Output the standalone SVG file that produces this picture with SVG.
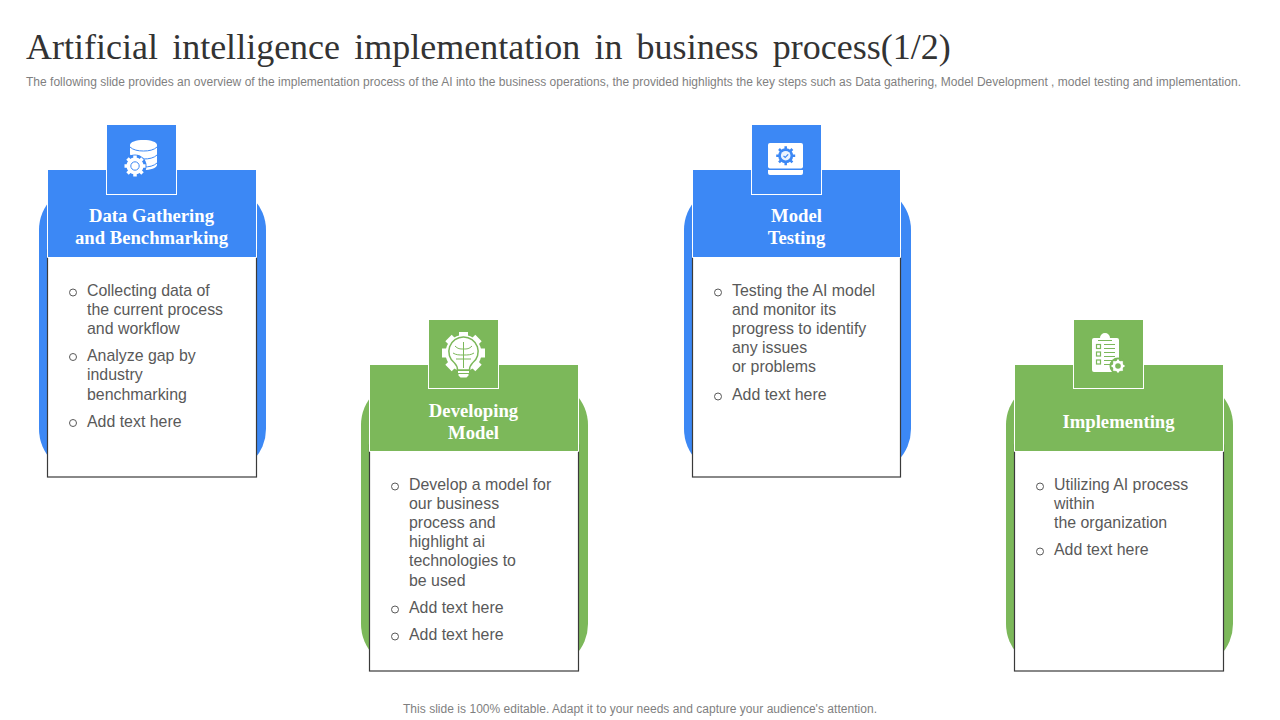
<svg xmlns="http://www.w3.org/2000/svg" width="1280" height="720" viewBox="0 0 1280 720">
<style>
.title{font-family:"Liberation Serif",serif;font-size:36px;fill:#333;word-spacing:5.2px}
.sub{font-family:"Liberation Sans",Arial,sans-serif;font-size:12px;fill:#7f7f7f}
.head{font-family:"Liberation Serif",serif;font-size:18.7px;font-weight:bold;fill:#fff;text-anchor:middle}
.body{font-family:"Liberation Sans",Arial,sans-serif;font-size:15.9px;fill:#595959}
.bul{fill:none;stroke:#595959;stroke-width:1}
.blue{fill:#3c88f5}.green{fill:#7cb85a}
.box{fill:#fff;stroke:#3a3a3a;stroke-width:1.2}
.hd{stroke:#fff;stroke-width:1}
.ic{fill:#fff}
</style>
<rect width="1280" height="720" fill="#fff"/>
<text class="title" x="26" y="59">Artificial intelligence implementation in business process(1/2)</text>
<text class="sub" x="26" y="86" textLength="1215" lengthAdjust="spacing">The following slide provides an overview of the implementation process of the AI into the business operations, the provided highlights the key steps such as Data gathering, Model Development , model testing and implementation.</text>

<g id="card-data-gathering">
<rect class="blue" x="39" y="185" width="227" height="289" rx="45"/>
<rect class="box" x="47.5" y="250" width="209" height="227"/>
<path class="blue" d="M48 170H256V257.500H48Z"/>
<path d="M47.500 170V257.500H256.500V170" class="hd" fill="none"/>
<rect class="blue hd" x="106.500" y="125" width="70" height="69.500"/>
<path class="blue" d="M107 125H176V170H107Z"/>
<g class="ic">
<path d="M130 145c0-3 6-5 13.500-5s13.500 2 13.500 5v20c0 3-7 5-13.500 5s-13.500-2-13.500-5Z"/>
<path d="M130 147c3 3 8 4 13.500 4s10.500-1 13.500-4M130 155c3 3 8 4 13.500 4s10.500-1 13.500-4M130 163c3 3 8 4 13.500 4s10.500-1 13.500-4" fill="none" stroke="#3c88f5" stroke-width="1"/>
<circle cx="135" cy="166" r="11.500" fill="#3c88f5"/>
<circle cx="135" cy="166" r="8.500"/>
<path d="M135 155.500v21M124.500 166h21M127.500 158.500l15 15M142.500 158.500l-15 15" stroke="#fff" stroke-width="3.500"/>
<circle cx="135" cy="166" r="4.200" fill="none" stroke="#3c88f5" stroke-width="1"/>
</g>
<text class="head" x="151.500" y="222">Data Gathering</text>
<text class="head" x="151.500" y="244">and Benchmarking</text>
<circle class="bul" cx="73" cy="292.500" r="3.500"/>
<text class="body" x="87" y="296">Collecting data of</text>
<text class="body" x="87" y="315">the current process</text>
<text class="body" x="87" y="334">and workflow</text>
<circle class="bul" cx="73" cy="357" r="3.500"/>
<text class="body" x="87" y="361">Analyze gap by</text>
<text class="body" x="87" y="380">industry</text>
<text class="body" x="87" y="400">benchmarking</text>
<circle class="bul" cx="73" cy="423" r="3.500"/>
<text class="body" x="87" y="427">Add text here</text>
</g>

<g id="card-developing-model">
<rect class="green" x="361" y="380" width="227" height="289" rx="45"/>
<rect class="box" x="369.500" y="445" width="209" height="226"/>
<path class="green" d="M370 365H578V451.500H370Z"/>
<path d="M369.500 365V451.500H578.500V365" class="hd" fill="none"/>
<rect class="green hd" x="428.500" y="320" width="70" height="68.500"/>
<path class="green" d="M429 320H498V365H429Z"/>
<circle class="ic" cx="463.500" cy="353" r="18"/>
<path d="M463.500 332v42M442 353h43M448.500 338l30 30M478.500 338l-30 30" stroke="#fff" stroke-width="9"/>
<path d="M463.500 337a14.500 14.500 0 0 1 9 26c-2 2-3 4-3 7h-12c0-3-1-5-3-7a14.500 14.500 0 0 1 9-26Z" fill="#fff" stroke="#7cb85a" stroke-width="1.500"/>
<path class="green" d="M455 370h17v9h-17Z"/>
<path class="ic" d="M458 371h11v2h-11ZM458.500 374h10v1.500l-2 2h-6l-2-2Z"/>
<path d="M463.500 342v26M455 346c3 3 5 3 8.500 3s5.500 0 8.500-3M453 353c3 2 6 2 10.500 2s7.500 0 10.500-2M456 359h15" fill="none" stroke="#7cb85a" stroke-width="1"/>
<text class="head" x="473.500" y="417">Developing</text>
<text class="head" x="473.500" y="439">Model</text>
<circle class="bul" cx="395" cy="486.500" r="3.500"/>
<text class="body" x="409" y="490">Develop a model for</text>
<text class="body" x="409" y="509">our business</text>
<text class="body" x="409" y="528">process and</text>
<text class="body" x="409" y="547">highlight ai</text>
<text class="body" x="409" y="566">technologies to</text>
<text class="body" x="409" y="586">be used</text>
<circle class="bul" cx="395" cy="609.500" r="3.500"/>
<text class="body" x="409" y="613">Add text here</text>
<circle class="bul" cx="395" cy="636.500" r="3.500"/>
<text class="body" x="409" y="640">Add text here</text>
</g>

<g id="card-model-testing">
<rect class="blue" x="684" y="185" width="227" height="289" rx="45"/>
<rect class="box" x="692.500" y="250" width="208" height="227"/>
<path class="blue" d="M693 170H900V257.500H693Z"/>
<path d="M692.500 170V257.500H900.500V170" class="hd" fill="none"/>
<rect class="blue hd" x="751.500" y="125" width="70" height="69.500"/>
<path class="blue" d="M752 125H821V170H752Z"/>
<rect class="ic" x="768" y="143" width="35" height="25.500" rx="2"/>
<path class="ic" d="M768 170h35v3a2 2 0 0 1-2 2h-31a2 2 0 0 1-2-2Z"/>
<circle cx="785.700" cy="155.700" r="7.500" class="blue"/>
<path d="M785.700 146.200v19M776.200 155.700h19M779 149l13.400 13.400M792.400 149l-13.400 13.400" stroke="#3c88f5" stroke-width="2.500"/>
<circle cx="785.700" cy="155.700" r="4.800" fill="#fff" fill-opacity=".9"/>
<path d="M783.500 155.800l1.700 1.700 3-3.200" fill="none" stroke="#3c88f5" stroke-width="1.200"/>
<text class="head" x="796.500" y="222">Model</text>
<text class="head" x="796.500" y="244">Testing</text>
<circle class="bul" cx="718" cy="292.500" r="3.500"/>
<text class="body" x="732" y="296">Testing the AI model</text>
<text class="body" x="732" y="315">and monitor its</text>
<text class="body" x="732" y="334">progress to identify</text>
<text class="body" x="732" y="353">any issues</text>
<text class="body" x="732" y="372">or problems</text>
<circle class="bul" cx="718" cy="396.500" r="3.500"/>
<text class="body" x="732" y="400">Add text here</text>
</g>

<g id="card-implementing">
<rect class="green" x="1006" y="380" width="227" height="289" rx="45"/>
<rect class="box" x="1014.500" y="445" width="209" height="226"/>
<path class="green" d="M1015 365H1223V451.500H1015Z"/>
<path d="M1014.500 365V451.500H1223.500V365" class="hd" fill="none"/>
<rect class="green hd" x="1073.500" y="320" width="70" height="68.500"/>
<path class="green" d="M1074 320H1143V365H1074Z"/>
<path class="ic" d="M1094 338h6a5 5 0 0 1 10 0h7a2 2 0 0 1 2 2v30a2 2 0 0 1-2 2h-23a2 2 0 0 1-2-2v-30a2 2 0 0 1 2-2Z"/>
<path d="M1098 340.500h14" stroke="#7cb85a" stroke-width="1"/>
<g fill="none" stroke="#7cb85a" stroke-width="1.200">
<rect x="1096.500" y="344.500" width="4" height="4"/><rect x="1096.500" y="352" width="4" height="4"/><rect x="1096.500" y="360" width="4" height="4"/>
<path d="M1104 344.500h11M1104 348.500h11M1104 352.500h11M1104 356.500h11M1104 360.500h8M1104 364.500h6"/>
</g>
<circle cx="1118" cy="366" r="8.500" class="green"/>
<circle cx="1118" cy="366" r="5.500" class="ic"/>
<path d="M1118 359.500v13M1111.500 366h13M1113.400 361.400l9.200 9.200M1122.600 361.400l-9.200 9.200" stroke="#fff" stroke-width="2"/>
<circle cx="1118" cy="366" r="2.800" class="green"/>
<text class="head" x="1118.500" y="428">Implementing</text>
<circle class="bul" cx="1040" cy="486.500" r="3.500"/>
<text class="body" x="1054" y="490">Utilizing AI process</text>
<text class="body" x="1054" y="509">within</text>
<text class="body" x="1054" y="528">the organization</text>
<circle class="bul" cx="1040" cy="551.500" r="3.500"/>
<text class="body" x="1054" y="555">Add text here</text>
</g>
<text class="sub" x="640" y="713" text-anchor="middle" textLength="474" lengthAdjust="spacing">This slide is 100% editable. Adapt it to your needs and capture your audience's attention.</text>
</svg>
